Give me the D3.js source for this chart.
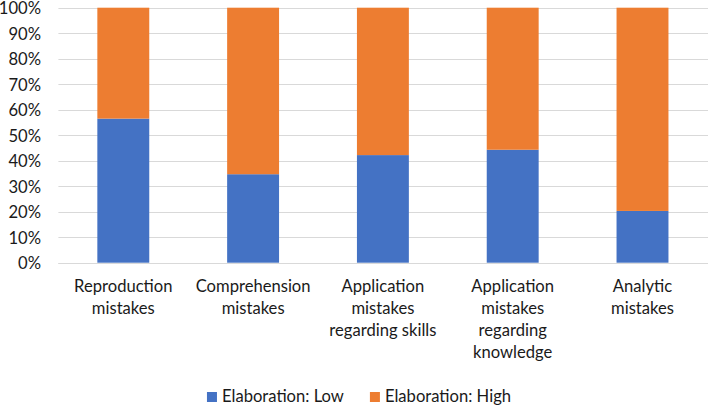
<!DOCTYPE html>
<html>
<head>
<meta charset="utf-8">
<script src="https://cdn.jsdelivr.net/npm/d3@7"></script>
<style>
  html, body { margin: 0; padding: 0; background: #fff; }
  svg { display: block; font-family: Lato, "Open Sans", sans-serif; }
</style>
</head>
<body>
<svg id="chart" width="708" height="406"></svg>
<script>
// ---- data ----
const categories = [
  "Reproduction\nmistakes",
  "Comprehension\nmistakes",
  "Application\nmistakes\nregarding skills",
  "Application\nmistakes\nregarding\nknowledge",
  "Analytic\nmistakes"
];
const seriesNames = ["Elaboration: Low", "Elaboration: High"];
const lowValues  = [56.5, 34.7, 42.2, 44.3, 20.3];
const highValues = [43.5, 65.3, 57.8, 55.7, 79.7];
const yTicks = [0, 10, 20, 30, 40, 50, 60, 70, 80, 90, 100];
const colors = ["#4472C4", "#ED7D31"];

// ---- layout ----
const svg = d3.select("#chart");
const W = 708, H = 406;
const FS = 16.6;
const plot = { left: 58.4, right: 707.4, top: 7.7, bottom: 262.7 };

const x = d3.scaleBand()
  .domain(categories)
  .range([plot.left, plot.right])
  .paddingInner(0.6)
  .paddingOuter(0.3);

const y = d3.scaleLinear()
  .domain([0, 100])
  .range([plot.bottom, plot.top]);

// gridlines
svg.append("g")
  .selectAll("line")
  .data(yTicks)
  .join("line")
  .attr("x1", plot.left)
  .attr("x2", W)
  .attr("y1", d => Math.round(y(d)) + 0.5)
  .attr("y2", d => Math.round(y(d)) + 0.5)
  .attr("stroke", "#d9d9d9")
  .attr("stroke-width", 1);

// y-axis labels
const yAxis = d3.axisLeft(y)
  .tickValues(yTicks)
  .tickFormat(d => d + "%")
  .tickSize(0)
  .tickPadding(0);
const yg = svg.append("g")
  .attr("transform", `translate(41,0)`)
  .call(yAxis);
yg.select(".domain").remove();
yg.selectAll("text")
  .attr("font-family", "Lato, 'Open Sans', sans-serif")
  .attr("font-size", FS)
  .attr("fill", "#1a1a1a")
  .attr("dy", "0.36em");

// stacked bars
const rows = categories.map((c, i) => ({ cat: c, low: lowValues[i], high: highValues[i] }));
const stack = d3.stack().keys(["low", "high"]);
const stacked = stack(rows);

svg.append("g")
  .selectAll("g")
  .data(stacked)
  .join("g")
  .attr("fill", (d, i) => colors[i])
  .selectAll("rect")
  .data(d => d)
  .join("rect")
  .attr("x", d => x(d.data.cat))
  .attr("width", x.bandwidth())
  .attr("y", d => y(d[1]))
  .attr("height", d => y(d[0]) - y(d[1]));

// baseline axis line (redraw on top)
svg.append("line")
  .attr("x1", plot.left)
  .attr("x2", W)
  .attr("y1", Math.round(y(0)) + 0.5)
  .attr("y2", Math.round(y(0)) + 0.5)
  .attr("stroke", "#d9d9d9")
  .attr("stroke-width", 1);

// x-axis labels
const xAxis = d3.axisBottom(x).tickSize(0).tickFormat("");
const xg = svg.append("g")
  .attr("transform", `translate(0,${plot.bottom})`)
  .call(xAxis);
xg.select(".domain").remove();
xg.selectAll(".tick").each(function (d) {
  const t = d3.select(this).append("text")
    .attr("text-anchor", "middle")
    .attr("font-family", "Lato, 'Open Sans', sans-serif")
    .attr("font-size", FS)
    .attr("fill", "#1a1a1a");
  d.split("\n").forEach((line, i) => {
    t.append("tspan")
      .attr("x", 0)
      .attr("y", 29.6 + i * 22)
      .text(line);
  });
});

// legend
const legend = svg.append("g");
const items = legend.selectAll("g")
  .data(seriesNames)
  .join("g");
items.append("rect")
  .attr("width", 10)
  .attr("height", 10)
  .attr("y", 392)
  .attr("fill", (d, i) => colors[i]);
items.append("text")
  .attr("x", 15)
  .attr("y", 402.3)
  .attr("font-family", "Lato, 'Open Sans', sans-serif")
  .attr("font-size", FS)
  .attr("fill", "#1a1a1a")
  .text(d => d);
let cursor = 0;
const positions = [];
items.each(function () {
  const w = 15 + d3.select(this).select("text").node().getComputedTextLength();
  positions.push(cursor);
  cursor += w + 26;
});
const totalW = cursor - 26;
const startX = 359 - totalW / 2;
items.attr("transform", (d, i) => `translate(${startX + positions[i]},0)`);
</script>
</body>
</html>
